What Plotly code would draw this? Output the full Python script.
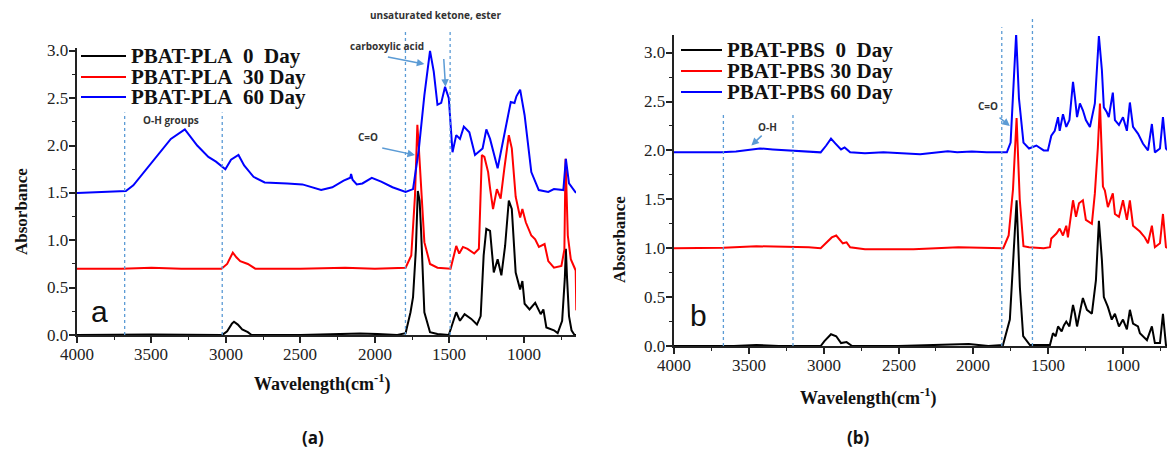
import plotly.graph_objects as go

# ---------------- data: PBAT-PLA (panel a) ----------------
pla0_wn = [4000, 3500, 3030, 3017, 2992, 2960, 2946, 2920, 2891, 2853, 2828, 2500, 2235, 2100, 1983, 1850,
           1794, 1761, 1744, 1725, 1712, 1700, 1690, 1668, 1630, 1580, 1504, 1479, 1454, 1429, 1398, 1353,
           1315, 1290, 1270, 1252, 1227, 1202, 1176, 1151, 1126, 1101, 1081, 1055, 1025, 1010, 995, 962,
           924, 887, 869, 849, 798, 773, 743, 725, 718, 710, 697, 680, 660, 650]
pla0_ab = [0.0, 0.005, 0.0, 0.01, 0.04, 0.12, 0.14, 0.11, 0.06, 0.03, 0.0, 0.0, 0.01, 0.015, 0.01, 0.0,
           0.02, 0.24, 0.40, 0.9, 1.52, 1.42, 1.1, 0.24, 0.03, 0.01, 0.0, 0.13, 0.24, 0.15, 0.22, 0.17,
           0.11, 0.2, 0.84, 1.12, 1.1, 0.66, 0.8, 0.63, 0.94, 1.42, 1.33, 0.66, 0.48, 0.57, 0.33, 0.27,
           0.34, 0.22, 0.27, 0.08, 0.05, 0.02, 0.15, 0.6, 0.91, 0.6, 0.2, 0.05, 0.0, 0.0]

pla30_wn = [4000, 3700, 3500, 3300, 3030, 3017, 2992, 2954, 2930, 2904, 2853, 2803, 2500, 2200, 2000,
            1794, 1756, 1731, 1715, 1706, 1686, 1668, 1630, 1580, 1492, 1466, 1454, 1434, 1409, 1378,
            1333, 1302, 1282, 1265, 1240, 1227, 1207, 1181, 1156, 1131, 1101, 1081, 1055, 1025, 1010,
            987, 950, 924, 899, 861, 836, 798, 748, 728, 720, 705, 685, 660, 652, 648]
pla30_ab = [0.70, 0.70, 0.71, 0.70, 0.70, 0.72, 0.75, 0.87, 0.82, 0.78, 0.75, 0.70, 0.70, 0.71, 0.70,
            0.71, 0.84, 1.47, 2.22, 2.0, 1.5, 0.98, 0.75, 0.71, 0.70, 0.87, 0.94, 0.86, 0.93, 0.91,
            0.86, 0.91, 1.9, 1.88, 1.72, 1.55, 1.33, 1.54, 1.44, 1.76, 2.11, 1.97, 1.46, 1.24, 1.33,
            1.19, 1.05, 1.01, 0.93, 0.96, 0.78, 0.71, 0.73, 0.9, 1.86, 1.05, 0.8, 0.71, 0.68, 0.26]

pla60_wn = [4000, 3672, 3622, 3496, 3370, 3276, 3193, 3118, 3067, 3004, 2966, 2916, 2878, 2815, 2740,
            2588, 2487, 2361, 2286, 2210, 2165, 2160, 2150, 2122, 2084, 2021, 1958, 1882, 1794, 1744,
            1706, 1668, 1630, 1605, 1580, 1555, 1529, 1504, 1479, 1454, 1429, 1403, 1366, 1328, 1277,
            1252, 1227, 1176, 1126, 1088, 1063, 1050, 1025, 995, 950, 900, 836, 798, 735, 718, 697, 660, 650]
pla60_ab = [1.50, 1.52, 1.58, 1.83, 2.07, 2.17, 2.0, 1.88, 1.83, 1.75, 1.85, 1.9, 1.79, 1.67, 1.61,
            1.6, 1.59, 1.53, 1.56, 1.63, 1.66, 1.70, 1.64, 1.59, 1.6, 1.66, 1.62, 1.56, 1.51, 1.54,
            1.95, 2.53, 3.0, 2.78, 2.43, 2.45, 2.62, 2.5, 1.93, 2.11, 2.07, 2.2, 2.14, 1.9, 1.97,
            2.17, 2.07, 1.76, 2.14, 2.46, 2.45, 2.52, 2.59, 2.32, 1.72, 1.53, 1.51, 1.54, 1.53, 1.86, 1.6, 1.52, 1.50]

# ---------------- data: PBAT-PBS (panel b) ----------------
pbs0_wn = [4000, 3600, 3450, 3300, 3020, 2995, 2951, 2916, 2884, 2847, 2810, 2500, 2150, 2030, 1900,
           1802, 1756, 1733, 1711, 1689, 1667, 1622, 1488, 1468, 1450, 1434, 1410, 1395, 1379, 1358, 1334,
           1321, 1307, 1281, 1268, 1241, 1208, 1181, 1161, 1141, 1128, 1101, 1075, 1054, 1027, 1000, 974,
           954, 933, 900, 887, 840, 807, 787, 753, 733, 713, 700]
pbs0_ab = [0.0, 0.0, 0.01, 0.0, 0.0, 0.05, 0.12, 0.1, 0.03, 0.04, 0.0, 0.0, 0.015, 0.02, 0.0,
           0.01, 0.27, 0.95, 1.49, 0.6, 0.1, 0.01, 0.01, 0.13, 0.1, 0.2, 0.15, 0.21, 0.25, 0.2, 0.42,
           0.33, 0.2, 0.4, 0.49, 0.37, 0.33, 0.67, 1.28, 0.88, 0.5, 0.4, 0.27, 0.33, 0.2, 0.27, 0.17,
           0.37, 0.23, 0.2, 0.13, 0.06, 0.2, 0.03, 0.03, 0.33, 0.01, 0.0]

pbs30_wn = [4000, 3670, 3450, 3100, 3020, 2983, 2946, 2916, 2897, 2872, 2847, 2823, 2724, 2400, 2100,
            1900, 1800, 1764, 1735, 1711, 1690, 1665, 1628, 1530, 1488, 1479, 1445, 1423, 1401, 1379,
            1368, 1334, 1314, 1294, 1268, 1248, 1208, 1188, 1168, 1154, 1134, 1121, 1101, 1068, 1054,
            1027, 1000, 974, 954, 933, 887, 854, 833, 807, 787, 753, 733, 713, 700]
pbs30_ab = [1.0, 1.005, 1.02, 1.01, 1.0, 1.06, 1.11, 1.13, 1.09, 1.05, 1.06, 1.01, 0.99, 0.99, 1.01,
            1.0, 1.0, 1.13, 1.6, 2.33, 1.5, 1.02, 1.01, 1.0, 1.01, 1.1, 1.15, 1.2, 1.13, 1.23,
            1.11, 1.49, 1.32, 1.46, 1.49, 1.29, 1.25, 1.56, 2.03, 2.48, 1.63, 1.59, 1.42, 1.56, 1.35,
            1.32, 1.49, 1.29, 1.49, 1.23, 1.17, 1.11, 1.05, 1.23, 1.01, 1.05, 1.35, 1.01, 1.0]

pbs60_wn = [4000, 3685, 3586, 3488, 3426, 3340, 3217, 3094, 3020, 2983, 2951, 2921, 2884, 2860, 2823,
            2724, 2601, 2478, 2355, 2232, 2170, 2108, 2010, 1911, 1776, 1751, 1734, 1714, 1695, 1665,
            1628, 1579, 1530, 1502, 1479, 1456, 1434, 1423, 1401, 1379, 1358, 1334, 1321, 1307, 1288,
            1268, 1248, 1221, 1188, 1174, 1161, 1141, 1128, 1108, 1095, 1068, 1054, 1027, 1000, 974,
            954, 933, 899, 867, 833, 807, 787, 753, 733, 713, 700]
pbs60_ab = [1.98, 1.98, 1.99, 2.01, 2.02, 2.01, 2.0, 1.99, 1.98, 2.05, 2.12, 2.07, 2.01, 2.03, 1.98,
            1.97, 1.98, 1.97, 1.96, 1.98, 1.99, 1.98, 1.99, 1.98, 1.98, 2.08, 2.53, 3.19, 2.53, 2.08,
            2.02, 2.05, 2.0, 2.0, 2.15, 2.2, 2.34, 2.2, 2.37, 2.24, 2.31, 2.7, 2.54, 2.34, 2.48,
            2.41, 2.31, 2.24, 2.48, 2.92, 3.17, 2.82, 2.44, 2.39, 2.34, 2.59, 2.31, 2.26, 2.34, 2.2,
            2.49, 2.24, 2.17, 2.07, 2.0, 2.27, 1.98, 2.02, 2.34, 2.02, 2.0]

# tick labels
x_tick_vals = [4000, 3500, 3000, 2500, 2000, 1500, 1000]
y_tick_vals = [0.0, 0.5, 1.0, 1.5, 2.0, 2.5, 3.0]

legend_a = ["PBAT-PLA\u00a0\u00a00\u00a0\u00a0Day", "PBAT-PLA\u00a0\u00a030\u00a0Day", "PBAT-PLA\u00a0\u00a060\u00a0Day"]
legend_b = ["PBAT-PBS\u00a0\u00a00\u00a0\u00a0Day", "PBAT-PBS\u00a030\u00a0Day", "PBAT-PBS\u00a060\u00a0Day"]
colors = ["#000000", "#ff0000", "#0000ff"]

# dashed band markers (wavenumber, top absorbance)
marks_a = [(3680, 2.35), (3025, 2.35), (1795, 3.23), (1495, 3.23)]
marks_b = [(3670, 2.39), (3205, 2.39), (1810, 3.26), (1605, 3.37)]

W, H = 1167, 452
YMAX_A, YMAX_B = 3.03, 3.18
XR_A = [4000, 650]
XR_B = [4000, 706]
SERIF = "Liberation Serif"

fig = go.Figure()
series_a = [(pla0_wn, pla0_ab), (pla30_wn, pla30_ab), (pla60_wn, pla60_ab)]
series_b = [(pbs0_wn, pbs0_ab), (pbs30_wn, pbs30_ab), (pbs60_wn, pbs60_ab)]
for (xs, ys), name, c in zip(series_a, legend_a, colors):
    fig.add_trace(go.Scatter(x=xs, y=ys, mode="lines", name=name, line=dict(color=c, width=2),
                             xaxis="x", yaxis="y"))
for (xs, ys), name, c in zip(series_b, legend_b, colors):
    fig.add_trace(go.Scatter(x=xs, y=ys, mode="lines", name=name, line=dict(color=c, width=2),
                             xaxis="x2", yaxis="y2"))

common = dict(ticks="outside", ticklen=6, tickwidth=1.5, tickcolor="#222", showticklabels=False,
              showline=True, linecolor="#222", linewidth=1.6, showgrid=False, zeroline=False)
xminor = dict(dtick=250, ticks="outside", ticklen=3, tickwidth=1.2, tickcolor="#222")
yminor = dict(dtick=0.25, ticks="outside", ticklen=3, tickwidth=1.2, tickcolor="#222")

fig.update_layout(
    template="none", width=W, height=H, margin=dict(l=0, r=0, t=0, b=0), showlegend=False,
    xaxis=dict(domain=[77 / W, 576 / W], range=XR_A, anchor="y", tickmode="array",
               tickvals=x_tick_vals, minor=xminor, **common),
    yaxis=dict(domain=[(H - 335) / H, (H - 48) / H], range=[0, YMAX_A], anchor="x", tickmode="array",
               tickvals=y_tick_vals, minor=yminor, **common),
    xaxis2=dict(domain=[674 / W, 1.0], range=XR_B, anchor="y2", tickmode="array",
                tickvals=x_tick_vals, minor=xminor, **common),
    yaxis2=dict(domain=[(H - 346) / H, (H - 35) / H], range=[0, YMAX_B], anchor="x2", tickmode="array",
                tickvals=y_tick_vals, minor=yminor, **common),
)

shapes = []
annots = []

# tick labels in serif type (drawn as text at the axis positions)
tickfont = dict(family=SERIF, size=17, color="#222")
for xr, yr in [("x", "y"), ("x2", "y2")]:
    for v in x_tick_vals:
        annots.append(dict(xref=xr, yref=yr + " domain", x=v, y=0, text=str(v), showarrow=False,
                           xanchor="center", yanchor="top", yshift=-8, font=tickfont))
    for v in y_tick_vals:
        annots.append(dict(xref=xr + " domain", yref=yr, x=0, y=v, text=f"{v:.1f}", showarrow=False,
                           xanchor="right", yanchor="middle", xshift=-7, font=tickfont))

dot = dict(color="#5b9bd5", width=1.3, dash="dot")
for (wn, top), xr, yr, ym in [(m, "x", "y domain", YMAX_A) for m in marks_a] + \
                             [(m, "x2", "y2 domain", YMAX_B) for m in marks_b]:
    shapes.append(dict(type="line", xref=xr, yref=yr, x0=wn, x1=wn, y0=0, y1=top / ym, line=dot))

# legends (drawn manually to match the long line samples)
leg_specs = [
    (legend_a, 81, 126, 129, [56, 77, 97]),
    (legend_b, 681, 722, 725, [50, 71, 92]),
]
for labels, lx0, lx1, tx, rows in leg_specs:
    for lab, c, ry in zip(labels, colors, rows):
        shapes.append(dict(type="line", xref="paper", yref="paper", x0=lx0 / W, x1=lx1 / W,
                           y0=(H - ry) / H, y1=(H - ry) / H, line=dict(color=c, width=2)))
        annots.append(dict(xref="paper", yref="paper", x=tx / W, y=(H - ry) / H, xanchor="left",
                           yanchor="middle", showarrow=False, text="<b>" + lab + "</b>",
                           font=dict(family=SERIF, size=21, color="#111")))

lblfont = dict(family="Open Sans", size=10, color="#333")

def txt(xr, yr, ym, wn, ab, text, font=lblfont):
    annots.append(dict(xref=xr, yref=yr, x=wn, y=ab / ym, text=text, showarrow=False, font=font,
                       xanchor="center", yanchor="middle"))

def arrow(xr, yr, hx, hy, tx, ty):
    annots.append(dict(xref=xr, yref=yr, x=hx, y=hy, axref=xr, ayref=yr, ax=tx, ay=ty, text=" ",
                       showarrow=True, arrowhead=2, arrowsize=1, arrowwidth=1.5, arrowcolor="#5b9bd5",
                       standoff=0))

# panel a labels
txt("x", "y domain", YMAX_A, 3370, 2.27, "<b>O-H groups</b>")
txt("x", "y domain", YMAX_A, 1920, 3.05, "<b>carboxylic acid</b>")
txt("x", "y domain", YMAX_A, 1592, 3.38, "<b>unsaturated ketone, ester</b>")
txt("x", "y domain", YMAX_A, 2046, 2.09, "<b>C=O</b>")
arrow("x", "y", 1668, 2.86, 1933, 2.94)
arrow("x", "y", 1526, 2.62, 1542, 3.02)
arrow("x", "y", 1731, 1.90, 1971, 1.98)
txt("x", "y domain", YMAX_A, 3849, 0.25, "a", dict(family="Liberation Sans", size=30, color="#111"))

# panel b labels
txt("x2", "y2 domain", YMAX_B, 3372, 2.24, "<b>O-H</b>")
txt("x2", "y2 domain", YMAX_B, 1900, 2.45, "<b>C=O</b>")
arrow("x2", "y2", 3483, 2.05, 3394, 2.18)
arrow("x2", "y2", 1756, 2.25, 1845, 2.36)
txt("x2", "y2 domain", YMAX_B, 3833, 0.31, "b", dict(family="Liberation Sans", size=30, color="#111"))

def ptxt(px, py, text, font, angle=0):
    annots.append(dict(xref="paper", yref="paper", x=px / W, y=(H - py) / H, showarrow=False,
                       xanchor="center", yanchor="middle", text=text, textangle=angle, font=font))

# axis titles and captions
tfont = dict(family=SERIF, size=18, color="#111")
ptxt(322, 383, "<b>Wavelength(cm<sup>-1</sup>)</b>", tfont)
ptxt(868, 397, "<b>Wavelength(cm<sup>-1</sup>)</b>", tfont)
yfont = dict(family=SERIF, size=17, color="#111")
ptxt(22, 212, "<b>Absorbance</b>", yfont, -90)
ptxt(620, 240, "<b>Absorbance</b>", yfont, -90)
capfont = dict(family="Open Sans", size=17, color="#111")
ptxt(313, 437, "<b>(a)</b>", capfont)
ptxt(858, 437, "<b>(b)</b>", capfont)

fig.update_layout(shapes=shapes, annotations=annots)
fig.write_html("out.html", config={"displayModeBar": False},
               post_script="document.body.style.margin='0';")
